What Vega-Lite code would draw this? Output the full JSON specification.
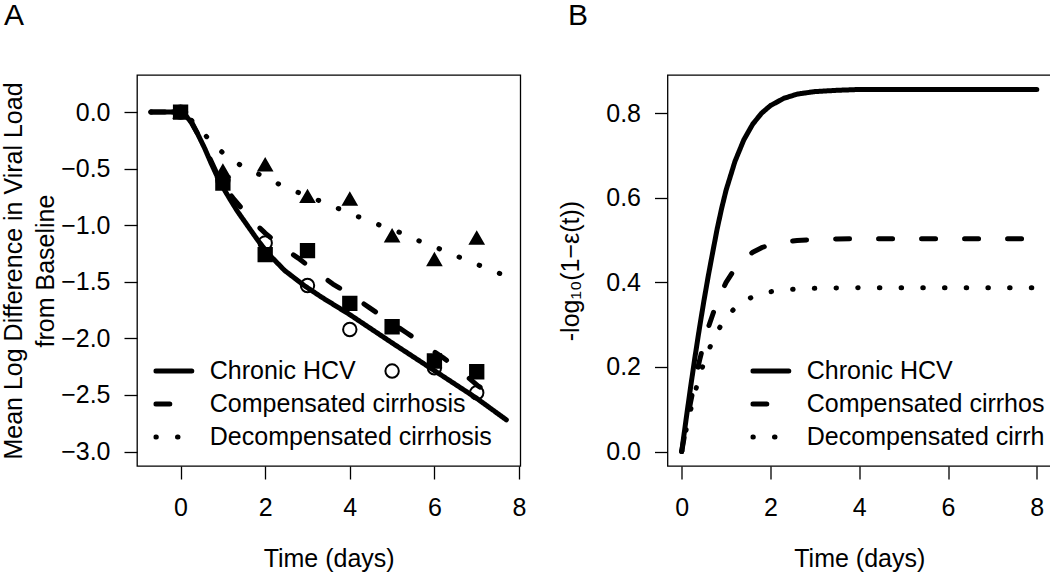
{
  "$schema": "https://vega.github.io/schema/vega-lite/v6.json",
  "autosize": {"type": "pad"},
  "padding": {"left": 0, "top": 0, "right": 0, "bottom": 0},
  "bounds": "flush",
  "spacing": 146.5,
  "background": "white",
  "resolve": {"scale": {"strokeDash": "independent"}, "legend": {"strokeDash": "independent"}},
  "datasets": {
    "obsA": [
      {"t": 0, "v": 0, "group": "Chronic HCV"},
      {"t": 1, "v": -0.6, "group": "Chronic HCV"},
      {"t": 2, "v": -1.156, "group": "Chronic HCV"},
      {"t": 3, "v": -1.533, "group": "Chronic HCV"},
      {"t": 4, "v": -1.921, "group": "Chronic HCV"},
      {"t": 5, "v": -2.289, "group": "Chronic HCV"},
      {"t": 6, "v": -2.26, "group": "Chronic HCV"},
      {"t": 7, "v": -2.48, "group": "Chronic HCV"},
      {"t": 0, "v": 0, "group": "Compensated cirrhosis"},
      {"t": 1, "v": -0.627, "group": "Compensated cirrhosis"},
      {"t": 2, "v": -1.259, "group": "Compensated cirrhosis"},
      {"t": 3, "v": -1.224, "group": "Compensated cirrhosis"},
      {"t": 4, "v": -1.69, "group": "Compensated cirrhosis"},
      {"t": 5, "v": -1.897, "group": "Compensated cirrhosis"},
      {"t": 6, "v": -2.2, "group": "Compensated cirrhosis"},
      {"t": 7, "v": -2.295, "group": "Compensated cirrhosis"},
      {"t": 0, "v": 0, "group": "Decompensated cirrhosis"},
      {"t": 1, "v": -0.52, "group": "Decompensated cirrhosis"},
      {"t": 2, "v": -0.465, "group": "Decompensated cirrhosis"},
      {"t": 3, "v": -0.745, "group": "Decompensated cirrhosis"},
      {"t": 4, "v": -0.768, "group": "Decompensated cirrhosis"},
      {"t": 5, "v": -1.092, "group": "Decompensated cirrhosis"},
      {"t": 6, "v": -1.303, "group": "Decompensated cirrhosis"},
      {"t": 7, "v": -1.112, "group": "Decompensated cirrhosis"}
    ],
    "fitA": [
      {"t": -0.7, "v": 0, "group": "Chronic HCV"},
      {"t": 0, "v": 0, "group": "Chronic HCV"},
      {"t": 0.1, "v": -0.02, "group": "Chronic HCV"},
      {"t": 0.25, "v": -0.09, "group": "Chronic HCV"},
      {"t": 0.4, "v": -0.19, "group": "Chronic HCV"},
      {"t": 0.57, "v": -0.32, "group": "Chronic HCV"},
      {"t": 0.72, "v": -0.45, "group": "Chronic HCV"},
      {"t": 0.88, "v": -0.58, "group": "Chronic HCV"},
      {"t": 1.04, "v": -0.69, "group": "Chronic HCV"},
      {"t": 1.2, "v": -0.79, "group": "Chronic HCV"},
      {"t": 1.35, "v": -0.88, "group": "Chronic HCV"},
      {"t": 1.51, "v": -0.965, "group": "Chronic HCV"},
      {"t": 1.67, "v": -1.05, "group": "Chronic HCV"},
      {"t": 1.83, "v": -1.135, "group": "Chronic HCV"},
      {"t": 2.07, "v": -1.25, "group": "Chronic HCV"},
      {"t": 2.46, "v": -1.4, "group": "Chronic HCV"},
      {"t": 2.93, "v": -1.535, "group": "Chronic HCV"},
      {"t": 3.33, "v": -1.635, "group": "Chronic HCV"},
      {"t": 4, "v": -1.79, "group": "Chronic HCV"},
      {"t": 5, "v": -2.04, "group": "Chronic HCV"},
      {"t": 6, "v": -2.285, "group": "Chronic HCV"},
      {"t": 7, "v": -2.53, "group": "Chronic HCV"},
      {"t": 7.7, "v": -2.72, "group": "Chronic HCV"},
      {"t": -0.7, "v": 0, "group": "Compensated cirrhosis"},
      {"t": 0, "v": 0, "group": "Compensated cirrhosis"},
      {"t": 0.1, "v": -0.015, "group": "Compensated cirrhosis"},
      {"t": 0.25, "v": -0.08, "group": "Compensated cirrhosis"},
      {"t": 0.57, "v": -0.31, "group": "Compensated cirrhosis"},
      {"t": 0.88, "v": -0.56, "group": "Compensated cirrhosis"},
      {"t": 1.04, "v": -0.66, "group": "Compensated cirrhosis"},
      {"t": 1.24, "v": -0.76, "group": "Compensated cirrhosis"},
      {"t": 1.51, "v": -0.88, "group": "Compensated cirrhosis"},
      {"t": 1.75, "v": -0.98, "group": "Compensated cirrhosis"},
      {"t": 2.0, "v": -1.07, "group": "Compensated cirrhosis"},
      {"t": 2.26, "v": -1.15, "group": "Compensated cirrhosis"},
      {"t": 2.5, "v": -1.22, "group": "Compensated cirrhosis"},
      {"t": 2.78, "v": -1.29, "group": "Compensated cirrhosis"},
      {"t": 3.09, "v": -1.38, "group": "Compensated cirrhosis"},
      {"t": 3.6, "v": -1.52, "group": "Compensated cirrhosis"},
      {"t": 4, "v": -1.61, "group": "Compensated cirrhosis"},
      {"t": 4.47, "v": -1.73, "group": "Compensated cirrhosis"},
      {"t": 4.82, "v": -1.82, "group": "Compensated cirrhosis"},
      {"t": 5.34, "v": -1.95, "group": "Compensated cirrhosis"},
      {"t": 5.69, "v": -2.04, "group": "Compensated cirrhosis"},
      {"t": 6.2, "v": -2.17, "group": "Compensated cirrhosis"},
      {"t": 6.56, "v": -2.27, "group": "Compensated cirrhosis"},
      {"t": 7.03, "v": -2.42, "group": "Compensated cirrhosis"},
      {"t": 7.42, "v": -2.51, "group": "Compensated cirrhosis"},
      {"t": -0.7, "v": 0, "group": "Decompensated cirrhosis"},
      {"t": 0, "v": 0, "group": "Decompensated cirrhosis"},
      {"t": 0.25, "v": -0.07, "group": "Decompensated cirrhosis"},
      {"t": 0.61, "v": -0.215, "group": "Decompensated cirrhosis"},
      {"t": 0.98, "v": -0.353, "group": "Decompensated cirrhosis"},
      {"t": 1.4, "v": -0.465, "group": "Decompensated cirrhosis"},
      {"t": 1.87, "v": -0.553, "group": "Decompensated cirrhosis"},
      {"t": 2.34, "v": -0.64, "group": "Decompensated cirrhosis"},
      {"t": 2.81, "v": -0.715, "group": "Decompensated cirrhosis"},
      {"t": 3.33, "v": -0.79, "group": "Decompensated cirrhosis"},
      {"t": 3.78, "v": -0.86, "group": "Decompensated cirrhosis"},
      {"t": 4.27, "v": -0.935, "group": "Decompensated cirrhosis"},
      {"t": 4.75, "v": -1.005, "group": "Decompensated cirrhosis"},
      {"t": 5.26, "v": -1.074, "group": "Decompensated cirrhosis"},
      {"t": 5.71, "v": -1.15, "group": "Decompensated cirrhosis"},
      {"t": 6.2, "v": -1.22, "group": "Decompensated cirrhosis"},
      {"t": 6.67, "v": -1.295, "group": "Decompensated cirrhosis"},
      {"t": 7.17, "v": -1.37, "group": "Decompensated cirrhosis"},
      {"t": 7.7, "v": -1.45, "group": "Decompensated cirrhosis"}
    ],
    "effB": [
      {"t": 0, "v": 0, "group": "Chronic HCV"},
      {"t": 0.1, "v": 0.077, "group": "Chronic HCV"},
      {"t": 0.2, "v": 0.152, "group": "Chronic HCV"},
      {"t": 0.3, "v": 0.224, "group": "Chronic HCV"},
      {"t": 0.4, "v": 0.292, "group": "Chronic HCV"},
      {"t": 0.5, "v": 0.356, "group": "Chronic HCV"},
      {"t": 0.6, "v": 0.416, "group": "Chronic HCV"},
      {"t": 0.7, "v": 0.472, "group": "Chronic HCV"},
      {"t": 0.8, "v": 0.527, "group": "Chronic HCV"},
      {"t": 0.9, "v": 0.575, "group": "Chronic HCV"},
      {"t": 1.0, "v": 0.618, "group": "Chronic HCV"},
      {"t": 1.2, "v": 0.686, "group": "Chronic HCV"},
      {"t": 1.4, "v": 0.737, "group": "Chronic HCV"},
      {"t": 1.6, "v": 0.774, "group": "Chronic HCV"},
      {"t": 1.8, "v": 0.8, "group": "Chronic HCV"},
      {"t": 2.0, "v": 0.818, "group": "Chronic HCV"},
      {"t": 2.3, "v": 0.835, "group": "Chronic HCV"},
      {"t": 2.6, "v": 0.845, "group": "Chronic HCV"},
      {"t": 3.0, "v": 0.851, "group": "Chronic HCV"},
      {"t": 3.5, "v": 0.854, "group": "Chronic HCV"},
      {"t": 4, "v": 0.856, "group": "Chronic HCV"},
      {"t": 5, "v": 0.856, "group": "Chronic HCV"},
      {"t": 6, "v": 0.856, "group": "Chronic HCV"},
      {"t": 7, "v": 0.856, "group": "Chronic HCV"},
      {"t": 8, "v": 0.856, "group": "Chronic HCV"},
      {"t": 0, "v": 0, "group": "Compensated cirrhosis"},
      {"t": 0.1, "v": 0.0605, "group": "Compensated cirrhosis"},
      {"t": 0.2, "v": 0.1165, "group": "Compensated cirrhosis"},
      {"t": 0.3, "v": 0.168, "group": "Compensated cirrhosis"},
      {"t": 0.4, "v": 0.2146, "group": "Compensated cirrhosis"},
      {"t": 0.5, "v": 0.2565, "group": "Compensated cirrhosis"},
      {"t": 0.6, "v": 0.2936, "group": "Compensated cirrhosis"},
      {"t": 0.8, "v": 0.3547, "group": "Compensated cirrhosis"},
      {"t": 1.0, "v": 0.4, "group": "Compensated cirrhosis"},
      {"t": 1.2, "v": 0.4327, "group": "Compensated cirrhosis"},
      {"t": 1.4, "v": 0.4556, "group": "Compensated cirrhosis"},
      {"t": 1.6, "v": 0.4713, "group": "Compensated cirrhosis"},
      {"t": 1.8, "v": 0.482, "group": "Compensated cirrhosis"},
      {"t": 2.0, "v": 0.4891, "group": "Compensated cirrhosis"},
      {"t": 2.3, "v": 0.4955, "group": "Compensated cirrhosis"},
      {"t": 2.6, "v": 0.499, "group": "Compensated cirrhosis"},
      {"t": 3.0, "v": 0.5013, "group": "Compensated cirrhosis"},
      {"t": 3.5, "v": 0.5025, "group": "Compensated cirrhosis"},
      {"t": 4, "v": 0.503, "group": "Compensated cirrhosis"},
      {"t": 5, "v": 0.503, "group": "Compensated cirrhosis"},
      {"t": 6, "v": 0.503, "group": "Compensated cirrhosis"},
      {"t": 7, "v": 0.503, "group": "Compensated cirrhosis"},
      {"t": 8, "v": 0.503, "group": "Compensated cirrhosis"},
      {"t": 0, "v": 0, "group": "Decompensated cirrhosis"},
      {"t": 0.1, "v": 0.0514, "group": "Decompensated cirrhosis"},
      {"t": 0.2, "v": 0.0981, "group": "Decompensated cirrhosis"},
      {"t": 0.3, "v": 0.1401, "group": "Decompensated cirrhosis"},
      {"t": 0.4, "v": 0.1773, "group": "Decompensated cirrhosis"},
      {"t": 0.5, "v": 0.21, "group": "Decompensated cirrhosis"},
      {"t": 0.6, "v": 0.2384, "group": "Decompensated cirrhosis"},
      {"t": 0.8, "v": 0.2839, "group": "Decompensated cirrhosis"},
      {"t": 1.0, "v": 0.3166, "group": "Decompensated cirrhosis"},
      {"t": 1.2, "v": 0.3394, "group": "Decompensated cirrhosis"},
      {"t": 1.4, "v": 0.3552, "group": "Decompensated cirrhosis"},
      {"t": 1.6, "v": 0.3658, "group": "Decompensated cirrhosis"},
      {"t": 1.8, "v": 0.373, "group": "Decompensated cirrhosis"},
      {"t": 2.0, "v": 0.3778, "group": "Decompensated cirrhosis"},
      {"t": 2.3, "v": 0.3821, "group": "Decompensated cirrhosis"},
      {"t": 2.6, "v": 0.3844, "group": "Decompensated cirrhosis"},
      {"t": 3.0, "v": 0.3859, "group": "Decompensated cirrhosis"},
      {"t": 3.5, "v": 0.3866, "group": "Decompensated cirrhosis"},
      {"t": 4, "v": 0.387, "group": "Decompensated cirrhosis"},
      {"t": 5, "v": 0.387, "group": "Decompensated cirrhosis"},
      {"t": 6, "v": 0.387, "group": "Decompensated cirrhosis"},
      {"t": 7, "v": 0.387, "group": "Decompensated cirrhosis"},
      {"t": 8, "v": 0.387, "group": "Decompensated cirrhosis"}
    ]
  },
  "config": {
    "font": "Liberation Sans",
    "view": {"stroke": "black", "strokeWidth": 1.3},
    "axis": {
      "grid": false,
      "domain": false,
      "tickColor": "black",
      "tickWidth": 1.3,
      "tickSize": 13,
      "labelFont": "Liberation Sans",
      "labelFontSize": 25,
      "labelColor": "black",
      "titleFont": "Liberation Sans",
      "titleFontSize": 25,
      "titleColor": "black",
      "titleFontWeight": "normal"
    },
    "axisX": {"labelPadding": 16, "titlePadding": 26},
    "axisY": {"labelPadding": 14, "labelAngle": 0},
    "legend": {
      "title": null, "orient": "none", "padding": 0, "clipHeight": 25, "rowPadding": 7,
      "labelFontSize": 25, "labelColor": "black", "labelFont": "Liberation Sans", "labelOffset": 15.5, "labelLimit": 1000,
      "symbolType": "stroke", "symbolSize": 1296, "symbolStrokeWidth": 5, "symbolStrokeColor": "black"
    },
    "title": {"font": "Liberation Sans", "fontSize": 30, "fontWeight": "normal", "color": "black", "anchor": "start", "frame": "group", "baseline": "alphabetic", "offset": 44}
  },
  "hconcat": [
    {
      "width": 383.3,
      "height": 391,
      "title": {"text": "A", "dx": -133},
      "layer": [
        {
          "data": {"name": "obsA"},
          "mark": {"type": "point", "filled": true, "stroke": "black", "strokeWidth": 2, "opacity": 1},
          "encoding": {
            "x": {"field": "t", "type": "quantitative", "scale": {"domain": [-1.03, 8.03], "nice": false, "zero": false}},
            "y": {"field": "v", "type": "quantitative", "scale": {"domain": [-3.128, 0.328], "nice": false, "zero": false}},
            "shape": {"field": "group", "type": "nominal", "scale": {"domain": ["Chronic HCV", "Compensated cirrhosis", "Decompensated cirrhosis"], "range": ["circle", "square", "triangle-up"]}, "legend": null},
            "fill": {"field": "group", "type": "nominal", "scale": {"domain": ["Chronic HCV", "Compensated cirrhosis", "Decompensated cirrhosis"], "range": ["transparent", "black", "black"]}, "legend": null},
            "size": {"field": "group", "type": "ordinal", "scale": {"domain": ["Chronic HCV", "Compensated cirrhosis", "Decompensated cirrhosis"], "range": [180, 175, 270]}, "legend": null}
          }
        },
        {
          "data": {"name": "fitA"},
          "mark": {"type": "line", "color": "black", "strokeWidth": 5, "strokeCap": "round", "strokeJoin": "round", "clip": true},
          "encoding": {
            "x": {"field": "t", "type": "quantitative", "scale": {"domain": [-1.03, 8.03], "nice": false, "zero": false}, "axis": {"values": [0, 2, 4, 6, 8], "title": "Time (days)"}},
            "y": {"field": "v", "type": "quantitative", "scale": {"domain": [-3.128, 0.328], "nice": false, "zero": false}, "axis": {"values": [-3, -2.5, -2, -1.5, -1, -0.5, 0], "format": ".1f", "title": ["Mean Log Difference in Viral Load", "from Baseline"], "titleLineHeight": 32, "titlePadding": 2}},
            "strokeDash": {
              "field": "group", "type": "nominal",
              "scale": {"domain": ["Chronic HCV", "Compensated cirrhosis", "Decompensated cirrhosis"], "range": [[1, 0], [14, 29], [0.5, 21.2]]},
              "legend": {
                "legendX": 16.3, "legendY": 283.5,
                "encode": {"symbols": {"update": {"strokeCap": {"value": "round"}}}}
              }
            }
          }
        }
      ]
    },
    {
      "width": 383.5,
      "height": 391,
      "title": {"text": "B", "dx": -99.5},
      "layer": [
        {
          "data": {"name": "effB"},
          "mark": {"type": "line", "color": "black", "strokeWidth": 5, "strokeCap": "round", "strokeJoin": "round", "clip": true},
          "encoding": {
            "x": {"field": "t", "type": "quantitative", "scale": {"domain": [-0.32, 8.32], "nice": false, "zero": false}, "axis": {"values": [0, 2, 4, 6, 8], "title": "Time (days)"}},
            "y": {"field": "v", "type": "quantitative", "scale": {"domain": [-0.0342, 0.8902], "nice": false, "zero": false}, "axis": {"values": [0, 0.2, 0.4, 0.6, 0.8], "format": ".1f", "title": "-log₁₀(1−ε(t))", "titlePadding": 22}},
            "strokeDash": {
              "field": "group", "type": "nominal",
              "scale": {"domain": ["Chronic HCV", "Compensated cirrhosis", "Decompensated cirrhosis"], "range": [[1, 0], [14, 29], [0.5, 21.2]]},
              "legend": {
                "legendX": 82.8, "legendY": 283.5,
                "labelExpr": "datum.label == 'Compensated cirrhosis' ? 'Compensated cirrhos' : datum.label == 'Decompensated cirrhosis' ? 'Decompensated cirrh' : datum.label",
                "encode": {"symbols": {"update": {"strokeCap": {"value": "round"}}}}
              }
            }
          }
        }
      ]
    }
  ]
}
